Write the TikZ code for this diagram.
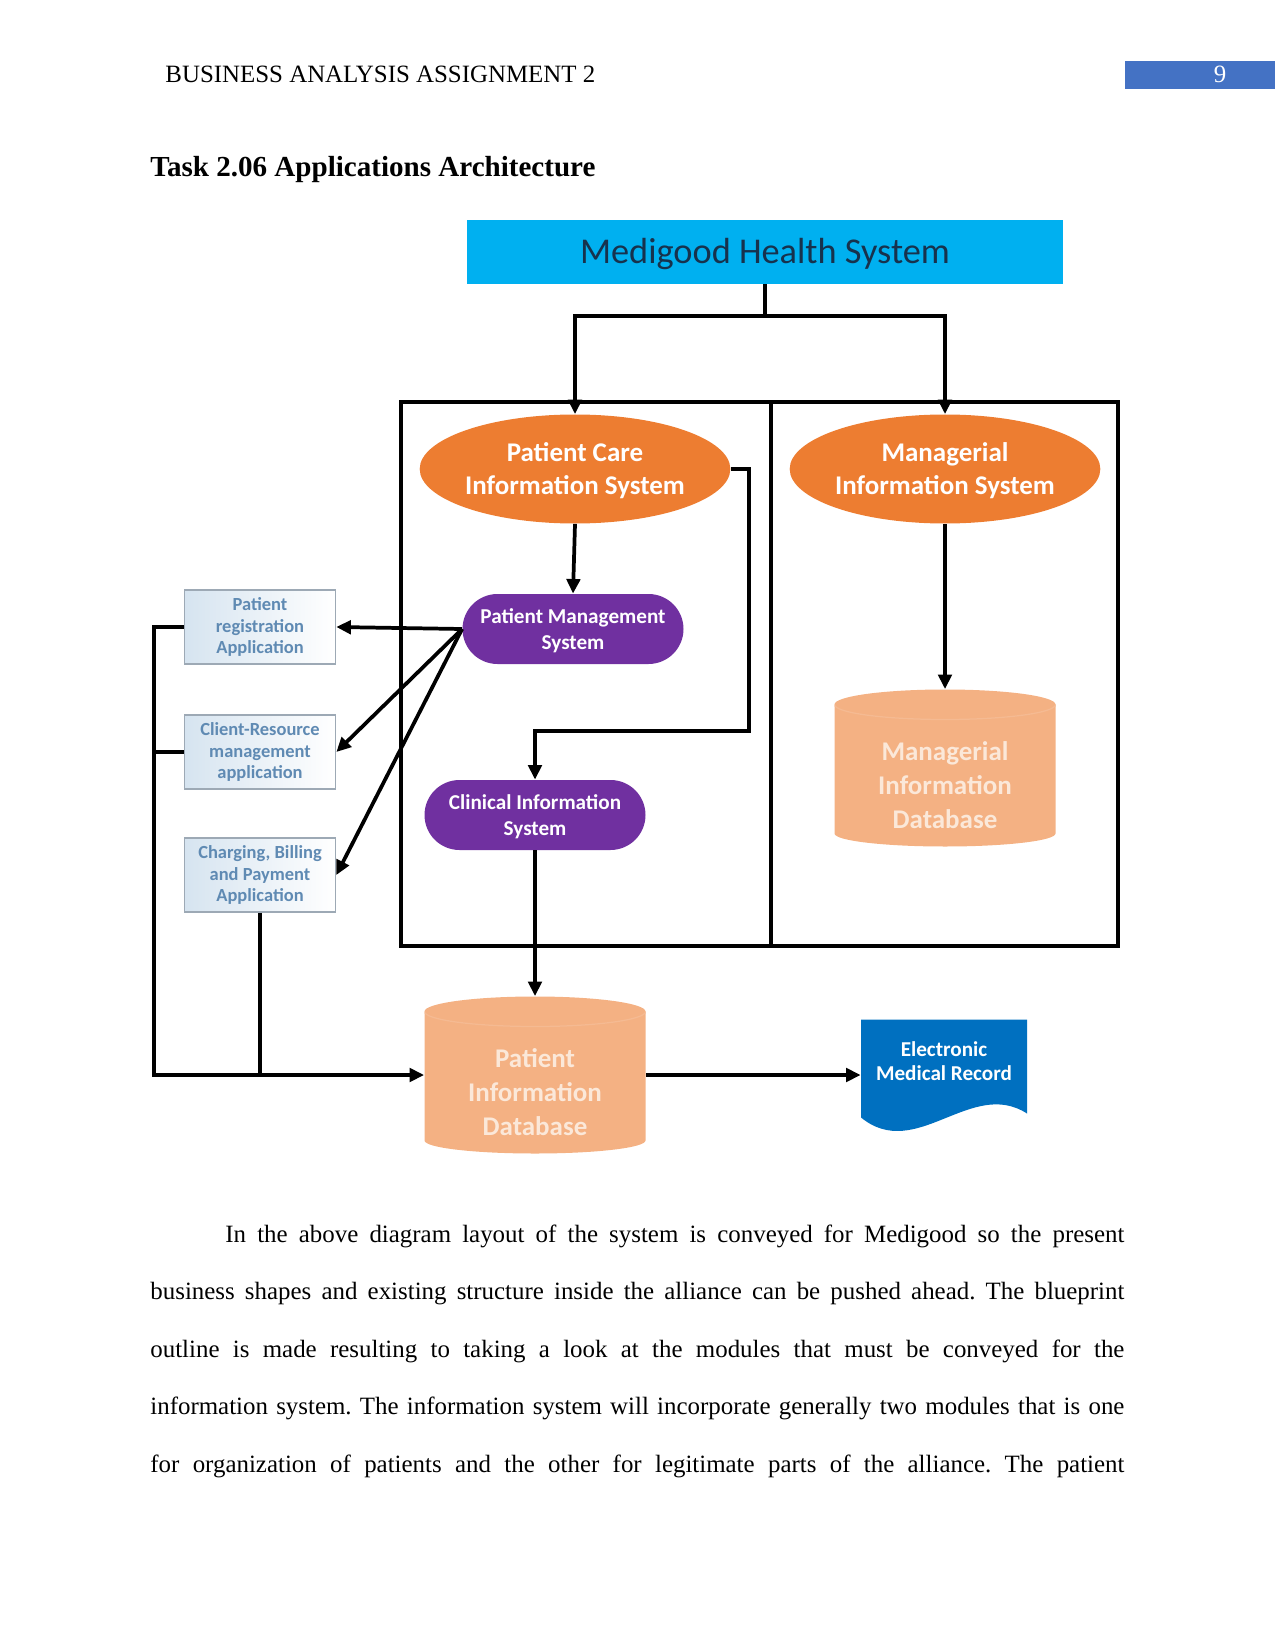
\documentclass[tikz,border=0pt]{standalone}
\usepackage{fontspec}
\setmainfont{Liberation Serif}
\newfontfamily\carlito{Carlito}
\usetikzlibrary{arrows.meta,calc,positioning,shapes.geometric,shapes.misc}

\newdimen\px
\px=0.4818pt

\definecolor{hdrblue}{HTML}{4472C4}
\definecolor{topcyan}{HTML}{00B0F0}
\definecolor{toptext}{HTML}{17324D}
\definecolor{careorange}{HTML}{ED7D31}
\definecolor{pmspurple}{HTML}{7030A0}
\definecolor{dbpeach}{HTML}{F4B183}
\definecolor{dbtext}{HTML}{FBE8D9}
\definecolor{emrblue}{HTML}{0070C0}
\definecolor{apptext}{HTML}{5F8AB3}
\definecolor{appborder}{HTML}{9DA9B5}
\definecolor{appfill}{HTML}{D6E4F0}

\frenchspacing

\begin{document}
\begin{tikzpicture}[x=0.4818pt,y=-0.4818pt,
    conn/.style={line width=1.8pt},
    arr/.style={conn,-{Triangle[length=7pt,width=6.5pt]}},
    pagetext/.style={inner sep=0pt,anchor=base west,font=\fontsize{12}{13.8}\selectfont},
    bodyline/.style={pagetext},
    topbox/.style={fill=topcyan,minimum width=596\px,minimum height=64\px,text=toptext,
        text depth=1pt,font=\carlito\fontsize{17.5}{21}\selectfont},
    careell/.style={ellipse,fill=careorange,minimum width=293\px,minimum height=109\px,
        inner sep=0pt,text=white,align=center,text depth=0pt,
        font=\carlito\bfseries\fontsize{13}{15.9}\selectfont},
    pillnode/.style={rounded rectangle,fill=pmspurple,minimum width=221\px,minimum height=70\px,
        inner sep=0pt,text=white,align=center,text depth=0pt,
        font=\carlito\bfseries\fontsize{10.2}{12.5}\selectfont},
    dbnode/.style={minimum width=221\px,minimum height=157\px,inner sep=0pt,
        path picture={
            \fill[dbpeach] ([yshift=-15\px]path picture bounding box.north west)
                -- ([yshift=13\px]path picture bounding box.south west)
                arc[start angle=180,end angle=360,x radius=110.5\px,y radius=13\px]
                -- ([yshift=-15\px]path picture bounding box.north east)
                arc[start angle=0,end angle=180,x radius=110.5\px,y radius=15\px] -- cycle;
            \draw[dbpeach!88!white,line width=0.6pt]
                ([yshift=-15\px]path picture bounding box.north west)
                arc[start angle=180,end angle=360,x radius=110.5\px,y radius=15\px];
        }},
    dbtext/.style={yshift=-17\px,align=center,text=dbtext,
        font=\carlito\bfseries\fontsize{13}{16.4}\selectfont},
    appbox/.style={draw=appborder,line width=0.8pt,left color=appfill,right color=white,
        minimum width=151\px,minimum height=74\px,inner sep=0pt,text=apptext,align=center,
        font=\carlito\bfseries\fontsize{8.9}{10.4}\selectfont},
    emrdoc/.style={minimum width=166\px,minimum height=111\px,inner sep=0pt,
        path picture={
            \fill[emrblue] (path picture bounding box.north west)
                -- (path picture bounding box.north east)
                -- ([yshift=17\px]path picture bounding box.south east)
                .. controls +(-56\px,36\px) and +(55\px,-45\px) ..
                ([yshift=13\px]path picture bounding box.south west) -- cycle;
        }},
    emrtext/.style={yshift=14\px,align=center,text=white,
        font=\carlito\bfseries\fontsize{10.2}{11.6}\selectfont}]

    \useasboundingbox (0,0) rectangle (1275,1650);

    % page header and title
    \fill[hdrblue] (1125,61) rectangle (1275,89);
    \node[pagetext,anchor=base,text=white] (pagenum) at (1220,83) {9};
    \node[pagetext] (header) at (165,83) {BUSINESS ANALYSIS ASSIGNMENT 2};
    \node[pagetext,font=\bfseries\fontsize{14}{16}\selectfont] (title) at (150,177)
        {Task 2.06 Applications Architecture};

    % frame around the two systems
    \draw[conn] (401,402) rectangle (1118,946);
    \draw[conn] (771,402) -- (771,946);

    % nodes
    \node[topbox] (mhs) at (765,252) {Medigood Health System};
    \node[careell] (pcis) at (575,469) {Patient Care\\Information System};
    \node[careell] (mis) at (945,469) {Managerial\\Information System};
    \node[pillnode] (pms) at (573,629) {Patient Management\\System};
    \node[pillnode] (cis) at (535,815) {Clinical Information\\System};
    \node[dbnode,label={[dbtext]center:Managerial\\Information\\Database}] (midb) at (945,768) {};
    \node[dbnode,label={[dbtext]center:Patient\\Information\\Database}] (pidb) at (535,1075) {};
    \node[appbox] (preg) at (260,627) {Patient\\registration\\Application};
    \node[appbox] (cres) at (260,752) {Client-Resource\\management\\application};
    \node[appbox] (cbp) at (260,875) {Charging, Billing\\and Payment\\Application};
    \node[emrdoc,label={[emrtext]center:Electronic\\Medical Record}] (emr) at (944,1075) {};

    % connectors
    \coordinate (fork) at (765,316);
    \draw[conn] (mhs.south) -- (fork);
    \draw[arr] (fork) -| (pcis.north);
    \draw[arr] (fork) -| (mis.north);
    \draw[arr] (pcis.south) -- (pms.north);
    \draw[arr] (mis.south) -- (midb.north);
    \coordinate (bend) at (749,731);
    \draw[arr] (pcis.east) -| (bend) -| (cis.north);
    \draw[arr] (cis.south) -- (pidb.north);
    \draw[arr] (pms.west) -- (preg.east);
    \draw[arr] (pms.west) -- (cres.east);
    \draw[arr] (pms.west) -- (cbp.east);
    \coordinate (bus) at (154,1075);
    \draw[arr] (preg.west) -| (bus) -- (pidb.west);
    \draw[conn] (cres.west) -- (cres.west -| bus);
    \draw[conn] (cbp.south) -- (cbp.south |- bus);
    \draw[arr] (pidb.east) -- (emr.west);

    % body text
    \node[bodyline] (line1) at (225,1242) {\hbox to 899\px{In the above diagram layout of the system is conveyed for Medigood so the present}};
    \node[bodyline] (line2) at (150,1299.5) {\hbox to 974\px{business shapes and existing structure inside the alliance can be pushed ahead. The blueprint}};
    \node[bodyline] (line3) at (150,1357) {\hbox to 974\px{outline is made resulting to taking a look at the modules that must be conveyed for the}};
    \node[bodyline] (line4) at (150,1414.5) {\hbox to 974\px{information system. The information system will incorporate generally two modules that is one}};
    \node[bodyline] (line5) at (150,1472) {\hbox to 974\px{for organization of patients and the other for legitimate parts of the alliance. The patient}};
\end{tikzpicture}
\end{document}
